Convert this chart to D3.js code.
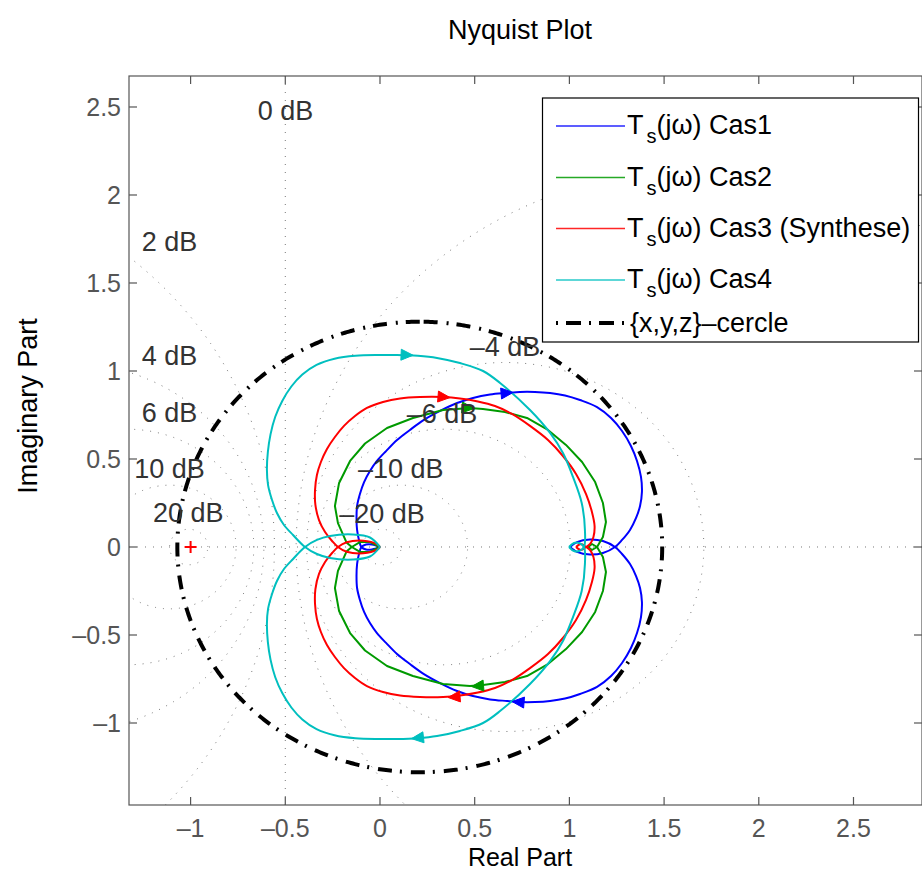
<!DOCTYPE html>
<html><head><meta charset="utf-8">
<script src="https://cdn.jsdelivr.net/npm/d3@7"></script>
<style>body{margin:0;background:#fff}svg{display:block}</style>
</head><body>
<svg id="c" width="922" height="872"></svg>
<script>
// ---------- data ----------
const xLim = [-1.3252, 2.8617];
const yLim = [-1.4659, 2.6761];
const xTicks = [-1, -0.5, 0, 0.5, 1, 1.5, 2, 2.5];
const yTicks = [-1, -0.5, 0, 0.5, 1, 1.5, 2, 2.5];
const tickLabel = v => (v < 0 ? "\u2013" + Math.abs(v) : String(v));

const seriesNames = ["Cas1", "Cas2", "Cas3 (Synthese)", "Cas4"];
const seriesColors = ["#0000ff", "#009a00", "#ff0000", "#00bfbf"];
const seriesSmooth = [true, false, true, true];

// one branch of each Nyquist curve (the other branch is its complex conjugate)
const cas1 = [[0,0],[-0.042,-0.014],[-0.074,-0.014],[-0.098,0],[-0.111,0.040],[-0.121,0.097],[-0.124,0.165],[-0.121,0.233],[-0.106,0.301],[-0.084,0.369],[-0.053,0.432],[-0.016,0.489],[0.032,0.545],[0.090,0.608],[0.158,0.665],[0.232,0.722],[0.317,0.773],[0.407,0.818],[0.491,0.847],[0.581,0.866],[0.671,0.875],[0.739,0.881],[0.818,0.881],[0.898,0.875],[0.977,0.861],[1.056,0.835],[1.146,0.795],[1.220,0.733],[1.278,0.659],[1.325,0.574],[1.357,0.489],[1.378,0.398],[1.383,0.313],[1.373,0.233],[1.352,0.165],[1.320,0.097],[1.278,0.040],[1.241,0],[1.177,-0.034],[1.109,-0.043],[1.040,-0.028],[1.003,0]];
const cas2 = [[0,0],[-0.053,-0.028],[-0.106,-0.028],[-0.149,0],[-0.177,0.026],[-0.222,0.136],[-0.238,0.233],[-0.216,0.364],[-0.158,0.489],[-0.079,0.588],[0.037,0.676],[0.174,0.733],[0.333,0.778],[0.475,0.790],[0.544,0.784],[0.660,0.767],[0.776,0.733],[0.887,0.665],[0.982,0.580],[1.067,0.483],[1.136,0.369],[1.177,0.250],[1.193,0.142],[1.177,0.057],[1.146,0],[1.119,-0.017],[1.099,0]];
const cas3 = [[0,0],[-0.017,-0.017],[-0.088,-0.036],[-0.176,-0.027],[-0.222,0],[-0.253,0.034],[-0.290,0.085],[-0.322,0.153],[-0.341,0.239],[-0.343,0.324],[-0.333,0.409],[-0.312,0.483],[-0.280,0.557],[-0.238,0.625],[-0.190,0.688],[-0.132,0.744],[-0.069,0.790],[0.016,0.824],[0.106,0.844],[0.211,0.852],[0.333,0.852],[0.422,0.844],[0.517,0.827],[0.607,0.801],[0.697,0.756],[0.792,0.688],[0.887,0.608],[0.966,0.517],[1.035,0.415],[1.088,0.301],[1.119,0.199],[1.133,0.119],[1.127,0.057],[1.109,0.017],[1.088,0],[1.061,-0.017],[1.035,0]];
const cas4 = [[0,0],[-0.053,-0.054],[-0.143,-0.071],[-0.264,-0.0625],[-0.333,-0.040],[-0.396,0],[-0.459,0.068],[-0.507,0.125],[-0.544,0.193],[-0.570,0.267],[-0.591,0.352],[-0.597,0.4375],[-0.592,0.540],[-0.578,0.640],[-0.553,0.740],[-0.516,0.830],[-0.468,0.912],[-0.410,0.980],[-0.335,1.035],[-0.240,1.070],[-0.130,1.087],[0.000,1.091],[0.090,1.091],[0.200,1.086],[0.301,1.074],[0.422,1.045],[0.544,1.0],[0.634,0.932],[0.792,0.778],[0.898,0.648],[0.966,0.534],[1.019,0.398],[1.065,0.25],[1.082,0.097],[1.077,0],[1.051,-0.023],[1.024,-0.023],[0.998,0]];
const seriesData = [cas1, cas2, cas3, cas4];

// arrow positions on the upper and lower branch
const arrowsUp = [[0.671,0.875],[0.465,0.790],[0.338,0.852],[0.143,1.091]];
const arrowsDown = [[0.729,-0.881],[0.515,-0.790],[0.391,-0.852],[0.198,-1.085]];

// {x,y,z} circle
const circleCenter = [0.21, 0];
const circleRadius = 1.28;
const criticalPoint = [-1, 0];

// M-circle grid (dB) and label anchors (center x, baseline y)
const gridDb = [-20, -10, -6, -4, -2, 2, 4, 6, 10, 20];
const gridLabels = [
  {t:"0 dB", x:-0.499, y:2.426}, {t:"2 dB", x:-1.111, y:1.683},
  {t:"4 dB", x:-1.111, y:1.034}, {t:"6 dB", x:-1.111, y:0.709},
  {t:"10 dB", x:-1.111, y:0.390}, {t:"20 dB", x:-1.012, y:0.144},
  {t:"\u20134 dB", x:0.660, y:1.085}, {t:"\u20136 dB", x:0.327, y:0.705},
  {t:"\u201310 dB", x:0.110, y:0.390}, {t:"\u201320 dB", x:0.011, y:0.138}
];

// ---------- drawing ----------
const FONT = "'Liberation Sans', Arial, Helvetica, sans-serif";
const svg = d3.select("#c");
const L = 129, R = 922, T = 76, B = 805;
const x = d3.scaleLinear().domain(xLim).range([L, R]);
const y = d3.scaleLinear().domain(yLim).range([B, T]);

svg.append("defs").append("clipPath").attr("id","clip")
  .append("rect").attr("x",L).attr("y",T).attr("width",R-L).attr("height",B-T);

const plot = svg.append("g").attr("clip-path","url(#clip)");
const line = d3.line().x(d=>x(d[0])).y(d=>y(d[1]));
const smoothLine = d3.line().x(d=>x(d[0])).y(d=>y(d[1])).curve(d3.curveCatmullRom.alpha(0.5));

// grid
const gridG = plot.append("g").attr("fill","none").attr("stroke","#777")
  .attr("stroke-width",1).attr("stroke-dasharray","1,7");
gridG.append("line").attr("x1",L).attr("x2",R).attr("y1",y(0)).attr("y2",y(0));
gridG.append("line").attr("x1",x(-0.5)).attr("x2",x(-0.5)).attr("y1",T).attr("y2",B);
gridDb.forEach(db=>{
  const m = Math.pow(10, db/20), m2 = m*m;
  const cx = -m2/(m2-1), r = Math.abs(m/(m2-1));
  const pts = d3.range(0, 721).map(i=>{const a=i/720*2*Math.PI; return [cx+r*Math.cos(a), r*Math.sin(a)];});
  gridG.append("path").attr("d", line(pts));
});

// curves
seriesData.forEach((s,i)=>{
  const conj = s.map(p=>[p[0], -p[1]]);
  const gen = seriesSmooth[i] ? smoothLine : line;
  [s, conj].forEach(c=>{
    plot.append("path").attr("d", gen(c)).attr("fill","none")
      .attr("stroke", seriesColors[i]).attr("stroke-width",2).attr("stroke-linejoin","round");
  });
});

// arrows
function drawArrow(pt, curve, dir, color){
  let best=1e9, bi=0;
  for(let k=0;k<curve.length-1;k++){
    const mx=(x(curve[k][0])+x(curve[k+1][0]))/2, my=(y(curve[k][1])+y(curve[k+1][1]))/2;
    const dd=(mx-x(pt[0]))**2+(my-y(pt[1]))**2;
    if(dd<best){best=dd;bi=k;}
  }
  let dx=x(curve[bi+1][0])-x(curve[bi][0]), dy=y(curve[bi+1][1])-y(curve[bi][1]);
  const n=Math.hypot(dx,dy); dx=dx/n*dir; dy=dy/n*dir;
  const cx=x(pt[0]), cy=y(pt[1]), len=12, hw=5.5;
  const tip=[cx+dx*len/2, cy+dy*len/2], base=[cx-dx*len/2, cy-dy*len/2];
  const p1=[base[0]-dy*hw, base[1]+dx*hw], p2=[base[0]+dy*hw, base[1]-dx*hw];
  plot.append("path").attr("d",`M${tip}L${p1}L${p2}Z`).attr("fill",color).attr("stroke",color).attr("stroke-width",1);
}
seriesData.forEach((s,i)=>{
  const conj = s.map(p=>[p[0], -p[1]]);
  drawArrow(arrowsUp[i], s, 1, seriesColors[i]);
  drawArrow(arrowsDown[i], conj, -1, seriesColors[i]);
});

// {x,y,z} circle
const cpts = d3.range(0, 721).map(i=>{const a=Math.PI/2 + i/720*2*Math.PI; return [circleCenter[0]+circleRadius*Math.cos(a), circleCenter[1]+circleRadius*Math.sin(a)];});
plot.append("path").attr("d", line(cpts)).attr("fill","none").attr("stroke","#000")
  .attr("stroke-width",4).attr("stroke-dasharray","14,8,2,9");

// critical point
const cpx=x(criticalPoint[0]), cpy=y(criticalPoint[1]);
plot.append("path").attr("d",`M${cpx-6},${cpy}H${cpx+6}M${cpx},${cpy-6}V${cpy+6}`)
  .attr("stroke","#ff0000").attr("stroke-width",2);

// grid labels
svg.append("g").selectAll("text").data(gridLabels).join("text")
  .attr("x",d=>x(d.x)).attr("y",d=>y(d.y)).attr("text-anchor","middle")
  .attr("font-family",FONT).attr("font-size",27).attr("fill","#333")
  .text(d=>d.t);

// axes box and ticks
const ax = svg.append("g").attr("stroke","#555").attr("stroke-width",1.2).attr("fill","none");
ax.append("rect").attr("x",L).attr("y",T).attr("width",R-L).attr("height",B-T);
xTicks.forEach(v=>{
  ax.append("line").attr("x1",x(v)).attr("x2",x(v)).attr("y1",B).attr("y2",B-8);
  ax.append("line").attr("x1",x(v)).attr("x2",x(v)).attr("y1",T).attr("y2",T+8);
});
yTicks.forEach(v=>{
  ax.append("line").attr("x1",L).attr("x2",L+8).attr("y1",y(v)).attr("y2",y(v));
  ax.append("line").attr("x1",R).attr("x2",R-8).attr("y1",y(v)).attr("y2",y(v));
});
svg.append("g").selectAll("text").data(xTicks).join("text")
  .attr("x",d=>x(d)).attr("y",B+32).attr("text-anchor","middle")
  .attr("font-family",FONT).attr("font-size",25).attr("fill","#555").text(tickLabel);
svg.append("g").selectAll("text").data(yTicks).join("text")
  .attr("x",L-8).attr("y",d=>y(d)+9).attr("text-anchor","end")
  .attr("font-family",FONT).attr("font-size",25).attr("fill","#555").text(tickLabel);

// titles
svg.append("text").attr("x",520).attr("y",39).attr("text-anchor","middle")
  .attr("font-family",FONT).attr("font-size",27).attr("fill","#000").text("Nyquist Plot");
svg.append("text").attr("x",520).attr("y",866).attr("text-anchor","middle")
  .attr("font-family",FONT).attr("font-size",25).attr("fill","#000").text("Real Part");
svg.append("text").attr("transform","translate(37,406) rotate(-90)").attr("text-anchor","middle")
  .attr("font-family",FONT).attr("font-size",27).attr("fill","#000").text("Imaginary Part");

// legend
const lg = svg.append("g");
lg.append("rect").attr("x",542.5).attr("y",98).attr("width",376).attr("height",244)
  .attr("fill","#fff").attr("stroke","#000").attr("stroke-width",1.2);
const rowY = [126, 177.5, 228.5, 280];
seriesNames.forEach((n,i)=>{
  lg.append("line").attr("x1",556).attr("x2",625).attr("y1",rowY[i]).attr("y2",rowY[i])
    .attr("stroke",seriesColors[i]).attr("stroke-width",1.3).attr("stroke-opacity",0.85);
  const t = lg.append("text").attr("x",627).attr("y",rowY[i]+8)
    .attr("font-family",FONT).attr("font-size",27).attr("fill","#000");
  t.append("tspan").text("T");
  t.append("tspan").attr("font-size",20).attr("dy",9).attr("dx",3).text("s");
  t.append("tspan").attr("dy",-9).text("(j\u03c9) " + n);
});
lg.append("line").attr("x1",556).attr("x2",625).attr("y1",323).attr("y2",323)
  .attr("stroke","#000").attr("stroke-width",4).attr("stroke-dasharray","2,8,15,8");
lg.append("text").attr("x",630).attr("y",332).attr("font-family",FONT).attr("font-size",27)
  .attr("fill","#000").text("{x,y,z}\u2013cercle");
</script>
</body></html>
